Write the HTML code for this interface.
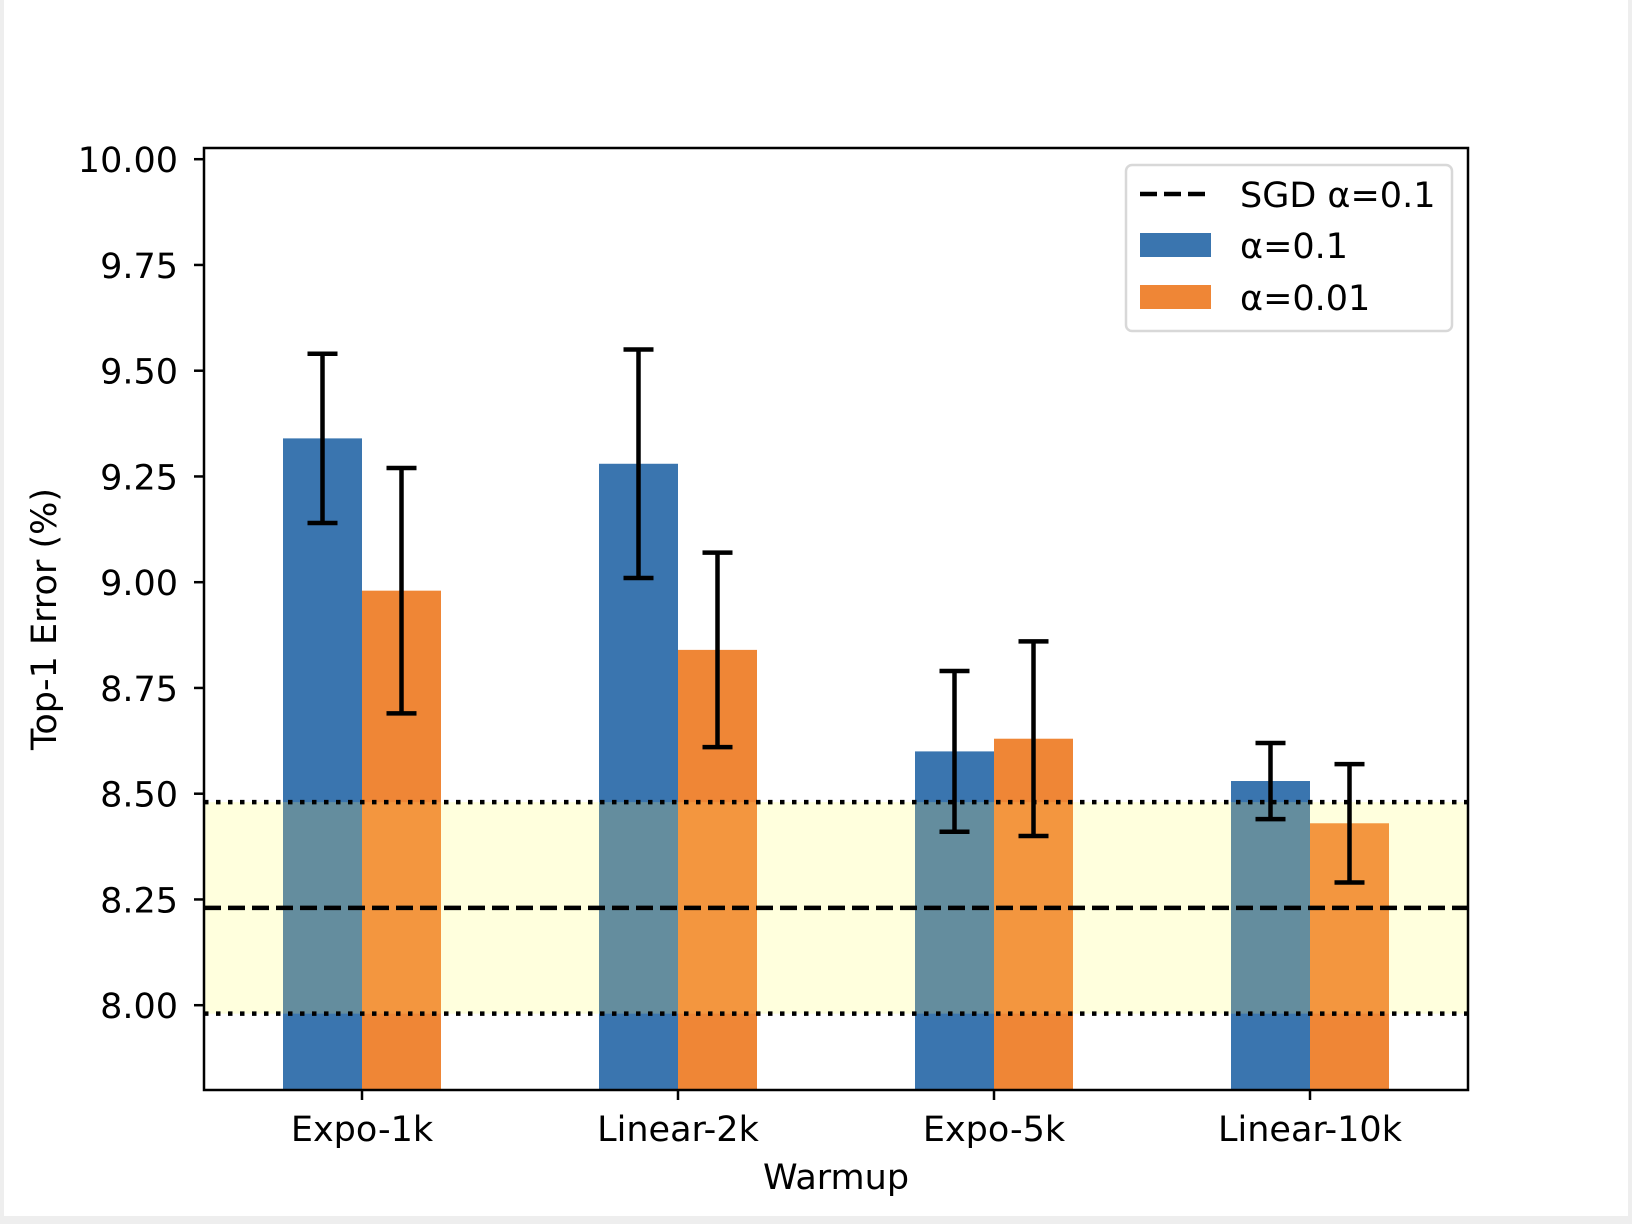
<!DOCTYPE html>
<html><head><meta charset="utf-8"><style>
html,body{margin:0;padding:0;background:#eeeeee;}
svg{display:block;font-family:"DejaVu Sans","Liberation Sans",sans-serif;}
</style></head><body>
<svg id="chart" width="1632" height="1224" viewBox="0 0 1632 1224" xmlns="http://www.w3.org/2000/svg">
<rect x="4" y="0" width="1624" height="1216" fill="#ffffff"/>
<g id="plot"></g>
</svg>
<script>
const categories = ["Expo-1k","Linear-2k","Expo-5k","Linear-10k"];
const blueValues = [9.34, 9.28, 8.60, 8.53];
const blueErrors = [0.20, 0.27, 0.19, 0.09];
const orangeValues = [8.98, 8.84, 8.63, 8.43];
const orangeErrors = [0.29, 0.23, 0.23, 0.14];
const sgdMean = 8.23;
const sgdBand = [7.98, 8.48];
const yTicks = [8.00, 8.25, 8.50, 8.75, 9.00, 9.25, 9.50, 9.75, 10.00];
const yTickLabels = ["8.00","8.25","8.50","8.75","9.00","9.25","9.50","9.75","10.00"];

const NS = "http://www.w3.org/2000/svg";
const L = 204, R = 1468, T = 148, B = 1090;
const FS = 35;
function yS(v){ return 159.2 + (10 - v) * 423; }
function xS(c){ return L + (c + 0.5) * (R - L) / 4; }
const bw = 0.25 * (R - L) / 4;
const g = document.getElementById('plot');
function el(tag, attrs, parent){
  const e = document.createElementNS(NS, tag);
  for (const k in attrs) e.setAttribute(k, attrs[k]);
  (parent || g).appendChild(e);
  return e;
}

const band = el('rect', {x:L, y:yS(sgdBand[1]), width:R-L, height:yS(sgdBand[0])-yS(sgdBand[1]), fill:'#ffffdd'});



function drawSeries(vals, errs, offset, color, name, tint){
  vals.forEach((v, i) => {
    const cx = xS(i) + offset;
    const r = el('rect', {x:cx-bw/2, y:yS(v), width:bw, height:B-yS(v), fill:color});
    
    
    const top = Math.max(yS(v), yS(sgdBand[1]));
    const bot = yS(sgdBand[0]);
    if (bot > top) {
      const t = el('rect', {x:cx-bw/2, y:top, width:bw, height:bot-top, fill:tint});
      
      
    }
  });
}
drawSeries(blueValues, blueErrors, -bw/2, '#3a75af', 'alpha-0-1', 'rgba(200,200,120,0.3)');
drawSeries(orangeValues, orangeErrors, bw/2, '#ef8636', 'alpha-0-01', 'rgba(255,200,90,0.25)');

const dl1 = el('line', {x1:L, x2:R, y1:yS(sgdBand[1]), y2:yS(sgdBand[1]), stroke:'#000', 'stroke-width':4.5, 'stroke-dasharray':'4.5 7.5'});


const dl2 = el('line', {x1:L, x2:R, y1:yS(sgdBand[0]), y2:yS(sgdBand[0]), stroke:'#000', 'stroke-width':4.5, 'stroke-dasharray':'4.5 7.5'});


const sl = el('line', {x1:L, x2:R, y1:yS(sgdMean), y2:yS(sgdMean), stroke:'#000', 'stroke-width':4.5, 'stroke-dasharray':'17 7'});



function drawErr(vals, errs, offset, name){
  vals.forEach((v, i) => {
    const cx = xS(i) + offset;
    const eg = el('g', {stroke:'#000', 'stroke-width':4.5});
    
    
    el('line', {x1:cx, x2:cx, y1:yS(v+errs[i]), y2:yS(v-errs[i])}, eg);
    el('line', {x1:cx-15, x2:cx+15, y1:yS(v+errs[i]), y2:yS(v+errs[i])}, eg);
    el('line', {x1:cx-15, x2:cx+15, y1:yS(v-errs[i]), y2:yS(v-errs[i])}, eg);
  });
}
drawErr(blueValues, blueErrors, -bw/2, 'alpha-0-1');
drawErr(orangeValues, orangeErrors, bw/2, 'alpha-0-01');

const fr = el('rect', {x:L, y:T, width:R-L, height:B-T, fill:'none', stroke:'#000', 'stroke-width':2.5});



yTicks.forEach((t, i) => {
  const y = yS(t);
  const tk = el('line', {x1:L-10, x2:L, y1:y, y2:y, stroke:'#000', 'stroke-width':2.5});
  
  
  const tx = el('text', {x:178, y:y+13, 'text-anchor':'end', 'font-size':FS, fill:'#000'});
  tx.textContent = yTickLabels[i];
  
  
});
categories.forEach((c, i) => {
  const x = xS(i);
  const tk = el('line', {x1:x, x2:x, y1:B, y2:B+10, stroke:'#000', 'stroke-width':2.5});
  
  
  const tx = el('text', {x:x, y:1141, 'text-anchor':'middle', 'font-size':FS, fill:'#000'});
  tx.textContent = c;
  
  
});
const xt = el('text', {x:836, y:1189, 'text-anchor':'middle', 'font-size':FS, fill:'#000'});
xt.textContent = 'Warmup';


const yt = el('text', {x:0, y:0, 'text-anchor':'middle', 'font-size':FS, fill:'#000', transform:'translate(56,619) rotate(-90)'});
yt.textContent = 'Top-1 Error (%)';



const lg = el('g', {});


el('rect', {x:1126, y:165, width:326, height:166, rx:6, fill:'#fff', stroke:'#d8d8d8', 'stroke-width':2.5}, lg);
const e1 = el('line', {x1:1140, x2:1211, y1:194, y2:194, stroke:'#000', 'stroke-width':4.5, 'stroke-dasharray':'17 7'}, lg);


const e2 = el('rect', {x:1140, y:233, width:71, height:24, fill:'#3a75af'}, lg);


const e3 = el('rect', {x:1140, y:285, width:71, height:24, fill:'#ef8636'}, lg);


[['SGD α=0.1',207],['α=0.1',258],['α=0.01',310]].forEach(([t,y]) => {
  const tx = el('text', {x:1240, y:y, 'font-size':FS, fill:'#000'}, lg);
  tx.textContent = t;
  
  
});
</script>
</body></html>
